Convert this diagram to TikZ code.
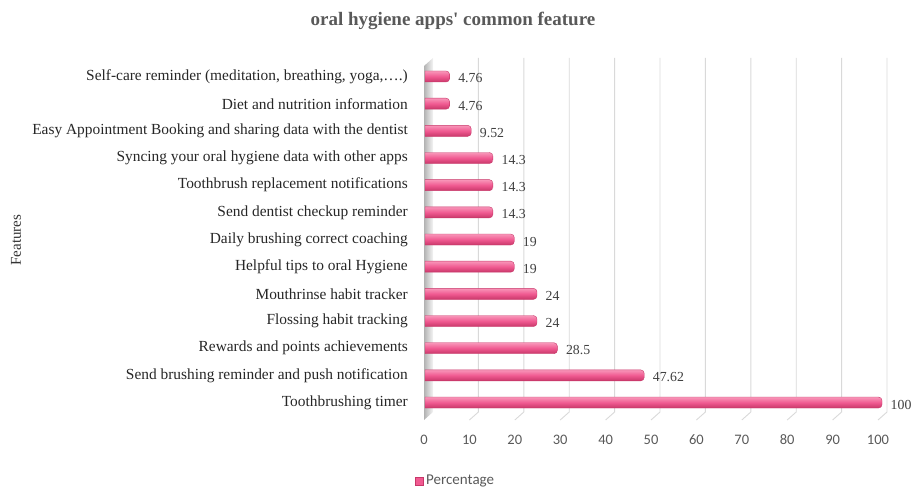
\documentclass[tikz,border=0pt]{standalone}
\usepackage{fontspec}
\setmainfont{Liberation Serif}
\newfontfamily\calibri{Carlito}
\definecolor{barpink}{RGB}{240,90,145}
\definecolor{barlight}{RGB}{248,150,185}
\definecolor{bardark}{RGB}{200,55,105}
\definecolor{axisgray}{RGB}{89,89,89}
\definecolor{valgray}{RGB}{64,64,64}
\definecolor{gridgray}{RGB}{217,217,217}

\begin{document}
\begin{tikzpicture}[x=1pt, y=-1pt,
    featurelabel/.style={anchor=east, inner sep=0pt, font=\fontsize{15.4}{18}\selectfont, text=black!85},
    valuelabel/.style={anchor=west, inner sep=0pt, font=\fontsize{13.8}{16}\selectfont, text=valgray},
    ticklabel/.style={inner sep=0pt, font=\calibri\fontsize{14.5}{17}\selectfont, text=axisgray},
    gridline/.style={draw=gridgray, line width=0.9pt},
    barshade/.style={top color=barlight, bottom color=bardark, middle color=barpink, draw=bardark, line width=0.4pt}]
  \useasboundingbox (0,0) rectangle (913,487);

  % title
  \node[font=\bfseries\fontsize{19}{22}\selectfont, text=axisgray] (title) at (453,21)
      {oral hygiene apps\textquotesingle{} common feature};

  % side wall and grid
  \shade[left color=gray!60, right color=gray!8] (424,66) -- (433,58) -- (433,412) -- (424,420) -- cycle;
  \foreach \v in {10,20,...,100} {
    \draw[gridline] (433+4.54*\v,58) -- (433+4.54*\v,412) -- (424+4.54*\v,420);
  }
  \foreach \v in {0,10,...,100} {
    \node[ticklabel] (t\v) at (424+4.54*\v,440) {\v};
  }

  % bars
  \foreach \val/\txt [count=\i] in {
      4.76/{Self-care reminder (meditation, breathing, yoga,….)},
      4.76/{Diet and nutrition information},
      9.52/{Easy Appointment Booking and sharing data with the dentist},
      14.3/{Syncing your oral hygiene data with other apps},
      14.3/{Toothbrush replacement notifications},
      14.3/{Send dentist checkup reminder},
      19/{Daily brushing correct coaching},
      19/{Helpful tips to oral Hygiene},
      24/{Mouthrinse habit tracker},
      24/{Flossing habit tracking},
      28.5/{Rewards and points achievements\ },
      47.62/{Send brushing reminder and push notification},
      100/{Toothbrushing timer}} {
    \pgfmathsetmacro\y{76.5+27.17*(\i-1)}
    \pgfmathsetmacro\e{428+4.54*\val}
    \shade[barshade] (425,\y-5.5) {[rounded corners=3.5pt] -- (\e,\y-5.5) -- (\e,\y+5.5)} -- (425,\y+5.5) -- cycle;
    \node[featurelabel] (f\i) at (408,\y) {\txt};
    \node[valuelabel] (v\i) at (\e+8.5,\y+2) {\val};
  }

  % axis title and legend
  \node[rotate=90, font=\fontsize{15}{17}\selectfont, text=black!80] (ytitle) at (16,240) {Features};
  \node[fill=barpink, draw=bardark, line width=0.4pt, minimum size=8pt, inner sep=0pt] (key) at (419,481) {};
  \node[anchor=west, inner sep=0pt, font=\calibri\fontsize{15}{18}\selectfont, text=axisgray] (keytext) at (426,481) {Percentage};
\end{tikzpicture}
\end{document}
